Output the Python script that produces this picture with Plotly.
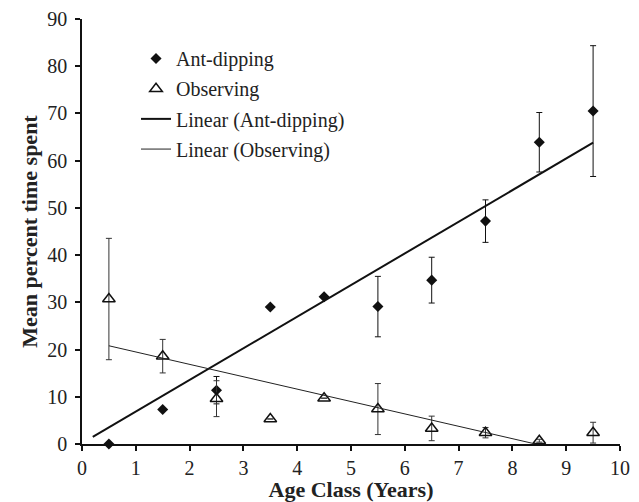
import plotly.graph_objects as go

age = [0.5, 1.5, 2.5, 3.5, 4.5, 5.5, 6.5, 7.5, 8.5, 9.5]
ant_dipping = [0, 7.3, 11.4, 29.0, 31.2, 29.1, 34.7, 47.2, 63.9, 70.5]
ant_err = [0, 0, 2.9, 0, 0, 6.4, 4.85, 4.5, 6.3, 13.85]
observing = [30.7, 18.6, 9.6, 5.3, 9.7, 7.4, 3.3, 2.4, 0.7, 2.4]
obs_err = [12.85, 3.55, 3.8, 0, 0, 5.4, 2.6, 1.1, 0.3, 2.2]

trend_ant_x = [0.2, 9.5]
trend_ant_y = [1.5, 63.8]
trend_obs_x = [0.5, 8.43]
trend_obs_y = [20.8, 0]

x_ticks = list(range(0, 11))
y_ticks = list(range(0, 91, 10))

FONT = "Liberation Serif"

fig = go.Figure()
fig.add_trace(go.Scatter(
    x=age, y=ant_dipping, mode="markers", name="Ant-dipping", legendgroup="a",
    marker=dict(symbol="diamond", size=8.5, color="#111111"),
    error_y=dict(type="data", array=ant_err, visible=True, color="#111111",
                 thickness=1, width=3),
    cliponaxis=False,
))
fig.add_trace(go.Scatter(
    x=age, y=observing, mode="markers", name="Observing", legendgroup="b",
    marker=dict(symbol="triangle-up-open", size=11, color="#111111",
                line=dict(width=1.5, color="#111111")),
    error_y=dict(type="data", array=obs_err, visible=True, color="#333333",
                 thickness=1, width=3),
    cliponaxis=False,
))
fig.add_trace(go.Scatter(
    x=trend_ant_x, y=trend_ant_y, mode="lines", name="Linear (Ant-dipping)", legendgroup="c",
    line=dict(color="#111111", width=2),
))
fig.add_trace(go.Scatter(
    x=trend_obs_x, y=trend_obs_y, mode="lines", name="Linear (Observing)", legendgroup="d",
    line=dict(color="#222222", width=1),
))

fig.update_layout(
    width=631, height=494,
    margin=dict(l=74, r=19, t=11, b=58),
    paper_bgcolor="white", plot_bgcolor="white",
    font=dict(family=FONT, size=20, color="#222222"),
    showlegend=True,
    legend=dict(x=0.1004, y=0.953, xanchor="left", yanchor="top",
                traceorder="grouped", tracegroupgap=1.2,
                bgcolor="rgba(0,0,0,0)", font=dict(family=FONT, size=20, color="#222222")),
    xaxis=dict(range=[0, 10], tickvals=x_ticks, ticktext=[str(v) for v in x_ticks],
               automargin=False,
               showline=True, linecolor="#111111", linewidth=1.5,
               ticks="outside", ticklen=5, tickwidth=1.5, tickcolor="#111111",
               showgrid=False, zeroline=False,
               tickfont=dict(family=FONT, size=20, color="#222222"),
               title=dict(text="<b>Age Class (Years)</b>", standoff=2,
                          font=dict(family=FONT, size=22, color="#222222"))),
    yaxis=dict(range=[0, 90], tickvals=y_ticks, ticktext=[str(v) for v in y_ticks],
               automargin=False, ticklabelstandoff=4,
               showline=True, linecolor="#111111", linewidth=1.5,
               ticks="outside", ticklen=5, tickwidth=1.5, tickcolor="#111111",
               showgrid=False, zeroline=False,
               tickfont=dict(family=FONT, size=20, color="#222222"),
               title=dict(text="<b>Mean percent time spent</b>", standoff=4,
                          font=dict(family=FONT, size=22, color="#222222"))),
)

fig.write_html("out.html")
